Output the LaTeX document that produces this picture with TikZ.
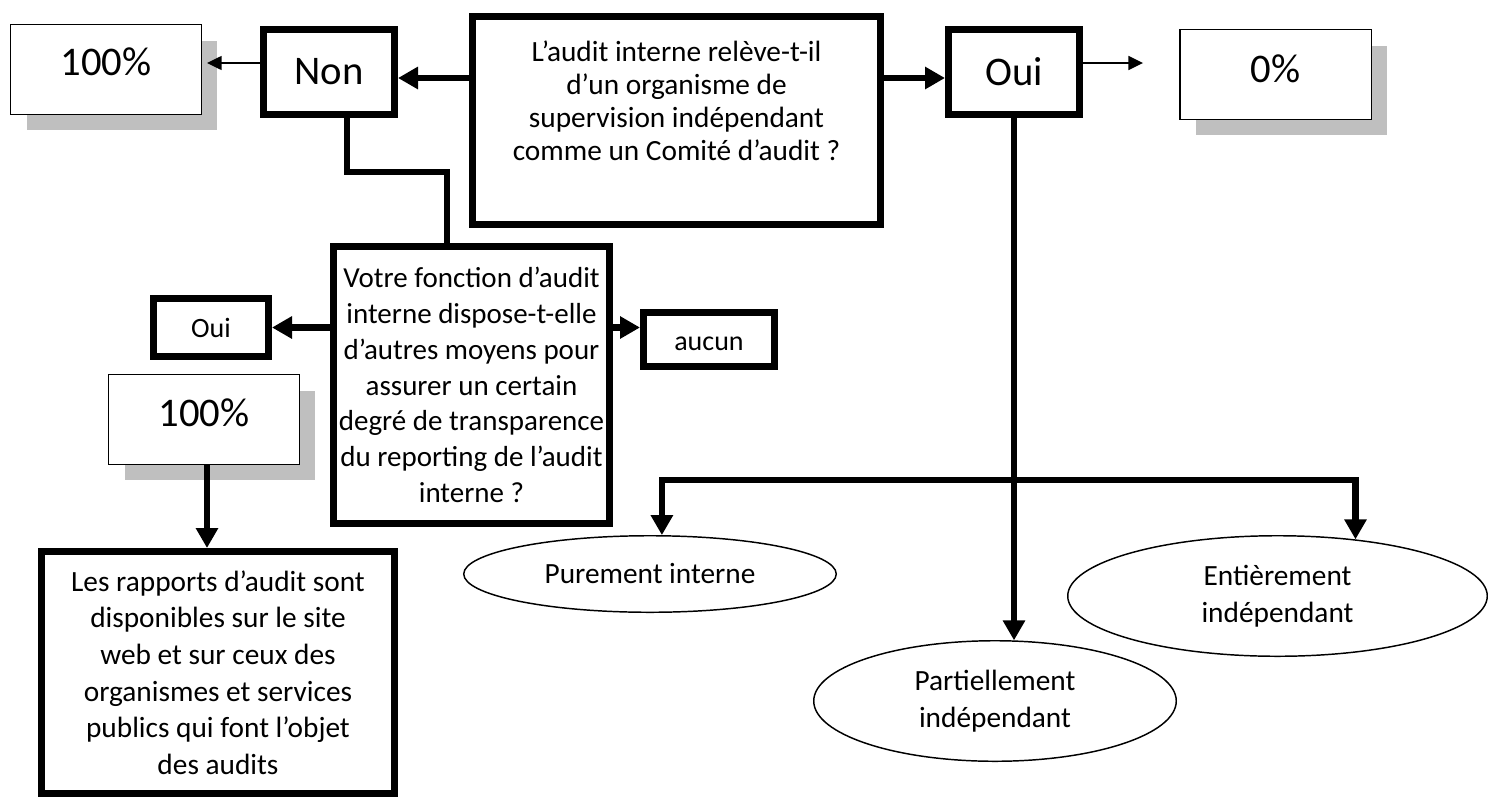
\documentclass[tikz,border=0pt]{standalone}
\usepackage{fontspec}
\setmainfont{Carlito}
\usetikzlibrary{arrows.meta,shapes.geometric,shadows}
\definecolor{shadowgray}{RGB}{191,191,191}
% font sizes used in the chart
\newcommand\fsBig{\fontsize{30.5pt}{36pt}\selectfont}
\newcommand\fsMain{\fontsize{22pt}{24.75pt}\selectfont}
\newcommand\fsQ{\fontsize{21.75pt}{26.85pt}\selectfont}
\newcommand\fsR{\fontsize{22pt}{27.5pt}\selectfont}
\newcommand\fsB{\fontsize{22pt}{27.75pt}\selectfont}
\newcommand\fsS{\fontsize{21pt}{25pt}\selectfont}
\tikzset{
  thickbox/.style={draw, fill=white, line width=5.5pt, rectangle, inner sep=0pt, align=center},
  thinbox/.style={draw, fill=white, line width=1.1pt, rectangle, inner sep=0pt,
    drop shadow={shadow xshift=12pt, shadow yshift=-12pt, fill=shadowgray, opacity=1}},
  oval/.style={draw, ellipse, line width=1.1pt, inner sep=0pt, align=center, font=\fsB},
  bigtext/.style={font=\fsBig, inner sep=0pt},
  smalltext/.style={font=\fsS, inner sep=0pt},
  link/.style={line width=5pt},
  flow/.style={line width=5pt, -{Triangle[length=15pt,width=16pt]}},
  flowboth/.style={line width=5pt, {Triangle[length=15pt,width=16pt]}-{Triangle[length=15pt,width=16pt]}},
  pointer/.style={line width=1.1pt, -{Triangle[length=11pt,width=10.5pt]}},
}
\begin{document}
\begin{tikzpicture}[x=0.75pt, y=-0.75pt]
\fill[white] (0,0) rectangle (1488,800);
\path[use as bounding box] (0,0) rectangle (1488,800);

% top row
\node[thinbox, minimum width=142.9pt, minimum height=67.15pt] (pct1) at (106,69.5) {};
\node[bigtext] (pct1t) at ([yshift=6pt]pct1.center) {100\%};
\node[thickbox, minimum width=98pt, minimum height=63.5pt, font=\fsBig] (non) at (329,72) {Non};
\node[thickbox, minimum width=305.75pt, minimum height=155.75pt] (main) at (676.5,120.5) {};
\node[font=\fsMain, align=center, anchor=north, inner sep=0pt] (maint) at ([yshift=-21pt]main.north)
  {L’audit interne relève-t-il\\d’un organisme de\\supervision indépendant\\comme un Comité d’audit ?};
\node[thickbox, minimum width=98pt, minimum height=63.5pt, font=\fsBig] (oui) at (1014,72) {Oui};
\node[thinbox, minimum width=143.6pt, minimum height=67.15pt] (zero) at (1275.5,74.5) {};
\node[bigtext] (zerot) at ([yshift=4.5pt]zero.center) {0\%};

% second question and its answers
\node[thickbox, minimum width=206.75pt, minimum height=207.5pt, font=\fsQ] (q2) at (471.5,385)
  {Votre fonction d’audit\\interne dispose-t-elle\\d’autres moyens pour\\assurer un certain\\degré de transparence\\du reporting de l’audit\\interne ?};
\node[thickbox, minimum width=86pt, minimum height=43.25pt, font=\fsS] (soui) at (211,327.5) {Oui};
\node[thickbox, minimum width=98pt, minimum height=40.25pt] (aucun) at (709,339.5) {};
\node[smalltext] (aucunt) at ([yshift=-3pt]aucun.center) {aucun};
\node[thinbox, minimum width=142.9pt, minimum height=67.15pt] (pct2) at (204,419.5) {};
\node[bigtext] (pct2t) at ([yshift=5pt]pct2.center) {100\%};
\node[thickbox, minimum width=264.5pt, minimum height=181.25pt, font=\fsR] (rap) at (218,672.5)
  {Les rapports d’audit sont\\disponibles sur le site\\web et sur ceux des\\organismes et services\\publics qui font l’objet\\des audits};

% degrees of independence
\node[oval, minimum width=279.4pt, minimum height=57.4pt] (pur) at (650,574) {Purement interne};
\node[oval, minimum width=271.9pt, minimum height=90.4pt] (par) at (995,701) {Partiellement\\indépendant};
\node[oval, minimum width=314.65pt, minimum height=90.4pt] (ent) at (1277.5,596) {Entièrement\\indépendant};

% helper points for the connectors
\coordinate (n78) at ([yshift=-4.5pt]non.east);
\coordinate (n63) at ([yshift=6.75pt]non.west);
\coordinate (p63) at ([xshift=3.75pt]pct1.east);
\coordinate (z63) at ([xshift=-27pt]zero.west);
\coordinate (pa) at ([xshift=2.25pt]pct2.south);
\coordinate (bar) at (1015,480);

% connectors
\draw[flow] (n78 -| main.west) -- (n78);
\draw[pointer] (n63) -- (p63 |- n63);
\draw[flow] (n78 -| main.east) -- (n78 -| oui.west);
\draw[pointer] (n63 -| oui.east) -- (z63 |- n63);
\draw[link] ([xshift=13.5pt]non.south) -- ++(0,54) -| ([xshift=-18.4pt]q2.north);
\draw[flow] (q2.west |- soui.east) -- (soui.east);
\draw[flow] (q2.east |- soui.east) -- (aucun.west |- soui.east);
\draw[flow] (pa) -- (pa |- rap.north);
\draw[flow] (oui.south) -- (oui.south |- par.72);
\draw[flowboth] (pur.73) -- (pur.73 |- bar) -- (ent.36 |- bar) -- (ent.36);
\end{tikzpicture}
\end{document}
